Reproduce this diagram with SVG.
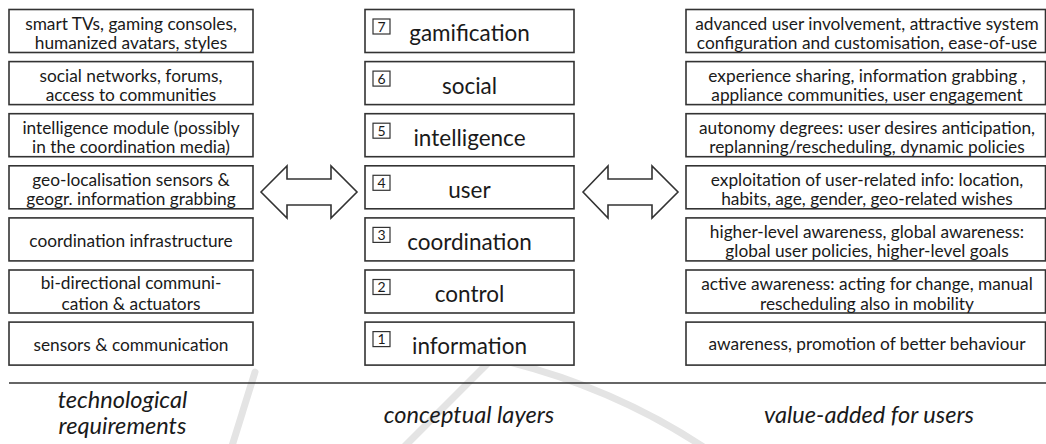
<svg xmlns="http://www.w3.org/2000/svg" width="1046" height="444" viewBox="0 0 1046 444">
<style>
.box{fill:#fff;stroke:#333;stroke-width:1.6}
.t{font-family:Lato,"Open Sans","Liberation Sans",sans-serif;font-size:17.3px;fill:#1a1a1a;text-anchor:middle}
.m{font-family:Lato,"Open Sans","Liberation Sans",sans-serif;font-size:22.5px;fill:#1a1a1a;text-anchor:middle}
.n{font-family:Lato,"Open Sans","Liberation Sans",sans-serif;font-size:14px;fill:#1a1a1a;text-anchor:middle}
.nb{fill:none;stroke:#333;stroke-width:1.2}
.lab{font-family:Lato,"Open Sans","Liberation Sans",sans-serif;font-style:italic;font-size:23.6px;fill:#1a1a1a;text-anchor:middle}
.arrow{fill:#fff;stroke:#333;stroke-width:1.6;stroke-linejoin:miter}
.wm{fill:none;stroke:#e4e4e4;stroke-width:7;stroke-linecap:round}
</style>
<rect width="1046" height="444" fill="#fff"/>
<g id="watermark">
<path class="wm" d="M493,358 L405,446"/>
<path class="wm" d="M493,358 Q610,385 705,448"/>
<path class="wm" d="M255,372 L232,446"/>
</g>
<!-- left column -->
<g id="tech1"><rect class="box" x="9" y="9.5" width="244" height="43"/><text class="t" x="131" y="29.5">smart TVs, gaming consoles,</text><text class="t" x="131" y="49">humanized avatars, styles</text></g>
<g id="tech2"><rect class="box" x="9" y="61.6" width="244" height="43"/><text class="t" x="131" y="81.6">social networks, forums,</text><text class="t" x="131" y="101">access to communities</text></g>
<g id="tech3"><rect class="box" x="9" y="113.7" width="244" height="43"/><text class="t" x="131" y="133.7">intelligence module (possibly</text><text class="t" x="131" y="153">in the coordination media)</text></g>
<g id="tech4"><rect class="box" x="9" y="165.8" width="244" height="43"/><text class="t" x="131" y="185.8">geo-localisation sensors &amp;</text><text class="t" x="131" y="205">geogr. information grabbing</text></g>
<g id="tech5"><rect class="box" x="9" y="217.9" width="244" height="43"/><text class="t" x="131" y="246.5">coordination infrastructure</text></g>
<g id="tech6"><rect class="box" x="9" y="270" width="244" height="43"/><text class="t" x="131" y="289">bi-directional communi-</text><text class="t" x="131" y="309.5">cation &amp; actuators</text></g>
<g id="tech7"><rect class="box" x="9" y="322.1" width="244" height="43"/><text class="t" x="131" y="350.5">sensors &amp; communication</text></g>
<!-- middle column -->
<g id="layer7"><rect class="box" x="365" y="9.5" width="209" height="43"/><rect class="nb" x="373" y="19" width="17" height="15"/><text class="n" x="381.5" y="31.5">7</text><text class="m" x="469.5" y="41">gamification</text></g>
<g id="layer6"><rect class="box" x="365" y="61.6" width="209" height="43"/><rect class="nb" x="373" y="71.1" width="17" height="15"/><text class="n" x="381.5" y="83.6">6</text><text class="m" x="469.5" y="94">social</text></g>
<g id="layer5"><rect class="box" x="365" y="113.7" width="209" height="43"/><rect class="nb" x="373" y="123.2" width="17" height="15"/><text class="n" x="381.5" y="135.7">5</text><text class="m" x="469.5" y="145.5">intelligence</text></g>
<g id="layer4"><rect class="box" x="365" y="165.8" width="209" height="43"/><rect class="nb" x="373" y="175.3" width="17" height="15"/><text class="n" x="381.5" y="187.8">4</text><text class="m" x="469.5" y="197.5">user</text></g>
<g id="layer3"><rect class="box" x="365" y="217.9" width="209" height="43"/><rect class="nb" x="373" y="227.4" width="17" height="15"/><text class="n" x="381.5" y="239.9">3</text><text class="m" x="469.5" y="250">coordination</text></g>
<g id="layer2"><rect class="box" x="365" y="270" width="209" height="43"/><rect class="nb" x="373" y="279.5" width="17" height="15"/><text class="n" x="381.5" y="292">2</text><text class="m" x="469.5" y="302">control</text></g>
<g id="layer1"><rect class="box" x="365" y="322.1" width="209" height="43"/><rect class="nb" x="373" y="331.6" width="17" height="15"/><text class="n" x="381.5" y="344.1">1</text><text class="m" x="469.5" y="354">information</text></g>
<!-- right column -->
<g id="value1"><rect class="box" x="686" y="9.5" width="359.5" height="43"/><text class="t" x="867" y="29.5">advanced user involvement, attractive system</text><text class="t" x="867" y="49">configuration and customisation, ease-of-use</text></g>
<g id="value2"><rect class="box" x="686" y="61.6" width="359.5" height="43"/><text class="t" x="867" y="81.6">experience sharing, information grabbing ,</text><text class="t" x="867" y="101">appliance communities, user engagement</text></g>
<g id="value3"><rect class="box" x="686" y="113.7" width="359.5" height="43"/><text class="t" x="867" y="133.7">autonomy degrees: user desires anticipation,</text><text class="t" x="867" y="153">replanning/rescheduling, dynamic policies</text></g>
<g id="value4"><rect class="box" x="686" y="165.8" width="359.5" height="43"/><text class="t" x="867" y="185.8">exploitation of user-related info: location,</text><text class="t" x="867" y="205">habits, age, gender, geo-related wishes</text></g>
<g id="value5"><rect class="box" x="686" y="217.9" width="359.5" height="43"/><text class="t" x="867" y="237.9">higher-level awareness, global awareness:</text><text class="t" x="867" y="257">global user policies, higher-level goals</text></g>
<g id="value6"><rect class="box" x="686" y="270" width="359.5" height="43"/><text class="t" x="867" y="290">active awareness: acting for change, manual</text><text class="t" x="867" y="309.5">rescheduling also in mobility</text></g>
<g id="value7"><rect class="box" x="686" y="322.1" width="359.5" height="43"/><text class="t" x="867" y="350">awareness, promotion of better behaviour</text></g>
<!-- connectors -->
<g id="connectors">
<polygon class="arrow" points="261,192 287,166 287,179 331,179 331,166 357,192 331,218 331,205 287,205 287,218"/>
<polygon class="arrow" points="583,192 608,166 608,179 652,179 652,166 678,192 652,218 652,205 608,205 608,218"/>
</g>
<!-- footer -->
<g id="footer">
<line x1="9" y1="383" x2="1046" y2="383" stroke="#333" stroke-width="1.6"/>
<text class="lab" x="122.5" y="408">technological</text>
<text class="lab" x="122.5" y="434">requirements</text>
<text class="lab" x="469" y="423">conceptual layers</text>
<text class="lab" x="869" y="423">value-added for users</text>
</g>
</svg>
